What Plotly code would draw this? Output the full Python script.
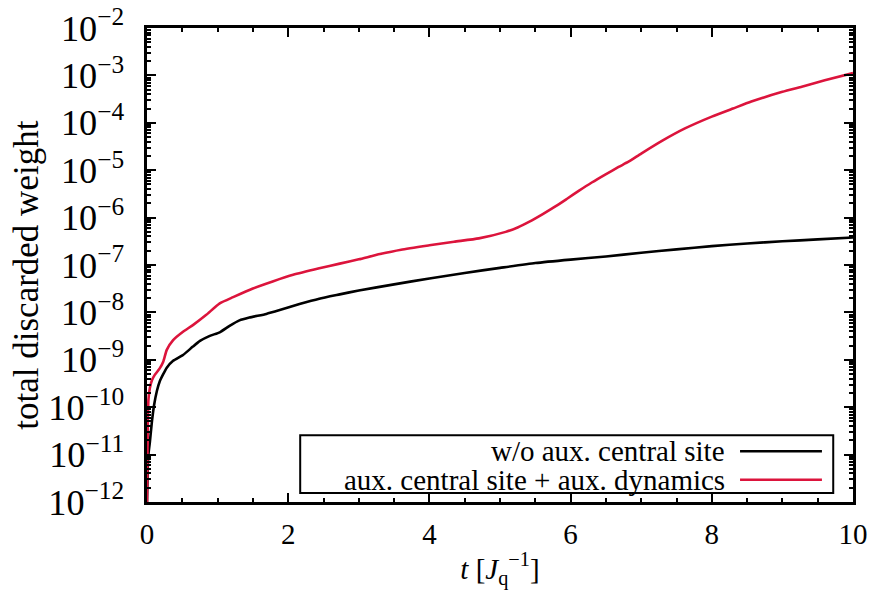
import plotly.graph_objects as go

# ---- data ----
t_without = [0, 0.01, 0.02, 0.04, 0.07, 0.1, 0.14, 0.18, 0.28, 0.37, 0.51, 0.65, 0.75, 0.89,
             1.03, 1.17, 1.31, 1.45, 1.69, 1.88, 2.16, 2.44, 2.73, 3.0, 3.5, 4.0, 4.5, 5.0,
             5.5, 6.0, 6.5, 7.0, 7.5, 8.0, 8.5, 9.0, 9.5, 10.0]
w_without = [1e-12, 5.0e-12, 1e-11, 1.8e-11, 5e-11, 1.1e-10, 2.2e-10, 3.5e-10, 6.8e-10, 9.5e-10,
             1.26e-9, 1.9e-9, 2.5e-9, 3.2e-9, 3.8e-9, 5.2e-9, 6.8e-9, 7.8e-9, 9.3e-9, 1.12e-8,
             1.5e-8, 1.95e-8, 2.4e-8, 2.9e-8, 3.9e-8, 5.2e-8, 6.8e-8, 8.7e-8, 1.1e-7, 1.3e-7,
             1.51e-7, 1.82e-7, 2.14e-7, 2.5e-7, 2.85e-7, 3.16e-7, 3.47e-7, 3.8e-7]

t_aux = [0, 0.01, 0.02, 0.04, 0.07, 0.11, 0.18, 0.23, 0.28, 0.37, 0.51, 0.65, 0.84, 1.03,
         1.22, 1.5, 1.78, 2.07, 2.44, 2.73, 3.0, 3.3, 3.6, 4.0, 4.35, 4.7, 5.08, 5.25, 5.41,
         5.6, 5.79, 5.95, 6.12, 6.3, 6.49, 6.68, 6.82, 7.0, 7.3, 7.62, 8.0, 8.3, 8.56, 9.0,
         9.3, 9.6, 10.0]
w_aux = [1e-12, 3.2e-11, 1.4e-10, 2.5e-10, 3.7e-10, 4.8e-10, 6.6e-10, 9.1e-10, 1.62e-9, 2.6e-9,
         3.9e-9, 5.4e-9, 8.9e-9, 1.55e-8, 2.1e-8, 3.2e-8, 4.5e-8, 6.2e-8, 8.5e-8, 1.07e-7,
         1.32e-7, 1.7e-7, 2.1e-7, 2.6e-7, 3.1e-7, 3.65e-7, 5.0e-7, 6.2e-7, 8.1e-7, 1.17e-6,
         1.74e-6, 2.5e-6, 3.7e-6, 5.5e-6, 8.1e-6, 1.17e-5, 1.51e-5, 2.24e-5, 4.2e-5, 7.6e-5,
         1.35e-4, 2.0e-4, 2.8e-4, 4.5e-4, 5.9e-4, 7.9e-4, 1.12e-3]

series_names = ["w/o aux. central site", "aux. central site + aux. dynamics"]
series_colors = ["#000000", "#DC143C"]
y_title = "total discarded weight"
x_title = "<i>t</i> [<i>J</i><sub>q</sub><sup>−1</sup>]"

FONT = "Liberation Serif"
FS = 29

fig = go.Figure()
fig.add_trace(go.Scatter(x=t_without, y=w_without, mode="lines", name=series_names[0],
                         line=dict(color=series_colors[0], width=2.6, shape="spline", smoothing=0.5),
                         showlegend=False))
fig.add_trace(go.Scatter(x=t_aux, y=w_aux, mode="lines", name=series_names[1],
                         line=dict(color=series_colors[1], width=2.6, shape="spline", smoothing=0.5),
                         showlegend=False))

# manual legend (text left of line sample, right aligned)
fig.add_shape(type="rect", xref="paper", yref="paper", x0=0.217, x1=0.972, y0=0.019, y1=0.141,
              line=dict(color="black", width=2), fillcolor="white", layer="above")
rows_y = [0.107, 0.047]
for name, col, yy in zip(series_names, series_colors, rows_y):
    fig.add_annotation(xref="paper", yref="paper", x=0.822, y=yy, text=name, showarrow=False,
                       xanchor="right", yanchor="middle",
                       font=dict(family=FONT, size=FS, color="black"))
    fig.add_shape(type="line", xref="paper", yref="paper", x0=0.840, x1=0.956, y0=yy, y1=yy,
                  line=dict(color=col, width=2.6), layer="above")

# y axis title as rotated annotation
fig.add_annotation(xref="paper", yref="paper", x=-0.171, y=0.478, text=y_title, showarrow=False,
                   textangle=-90, xanchor="center", yanchor="middle",
                   font=dict(family=FONT, size=35, color="black"))

axis_common = dict(showline=True, linecolor="black", linewidth=3, mirror="ticks",
                   ticks="inside", tickcolor="black", tickwidth=2, ticklen=9,
                   showgrid=False, zeroline=False, automargin=False,
                   tickfont=dict(family=FONT, size=FS, color="black"))

fig.update_xaxes(range=[0, 10], dtick=2, tick0=0,
                 minor=dict(ticks="inside", dtick=0.5, ticklen=4, tickwidth=2, tickcolor="black", showgrid=False),
                 title=dict(text=x_title, font=dict(family=FONT, size=FS, color="black"), standoff=10),
                 ticklabelstandoff=4,
                 **axis_common)
fig.update_yaxes(type="log", range=[-12, -2], dtick=1, exponentformat="power",
                 minor=dict(ticks="inside", dtick="D1", ticklen=4, tickwidth=2, tickcolor="black", showgrid=False),
                 ticklabelstandoff=14,
                 **axis_common)

fig.update_layout(width=876, height=592, margin=dict(l=147, r=23, t=28, b=90),
                  plot_bgcolor="white", paper_bgcolor="white",
                  font=dict(family=FONT, size=FS, color="black"))

fig.write_html("out.html")
